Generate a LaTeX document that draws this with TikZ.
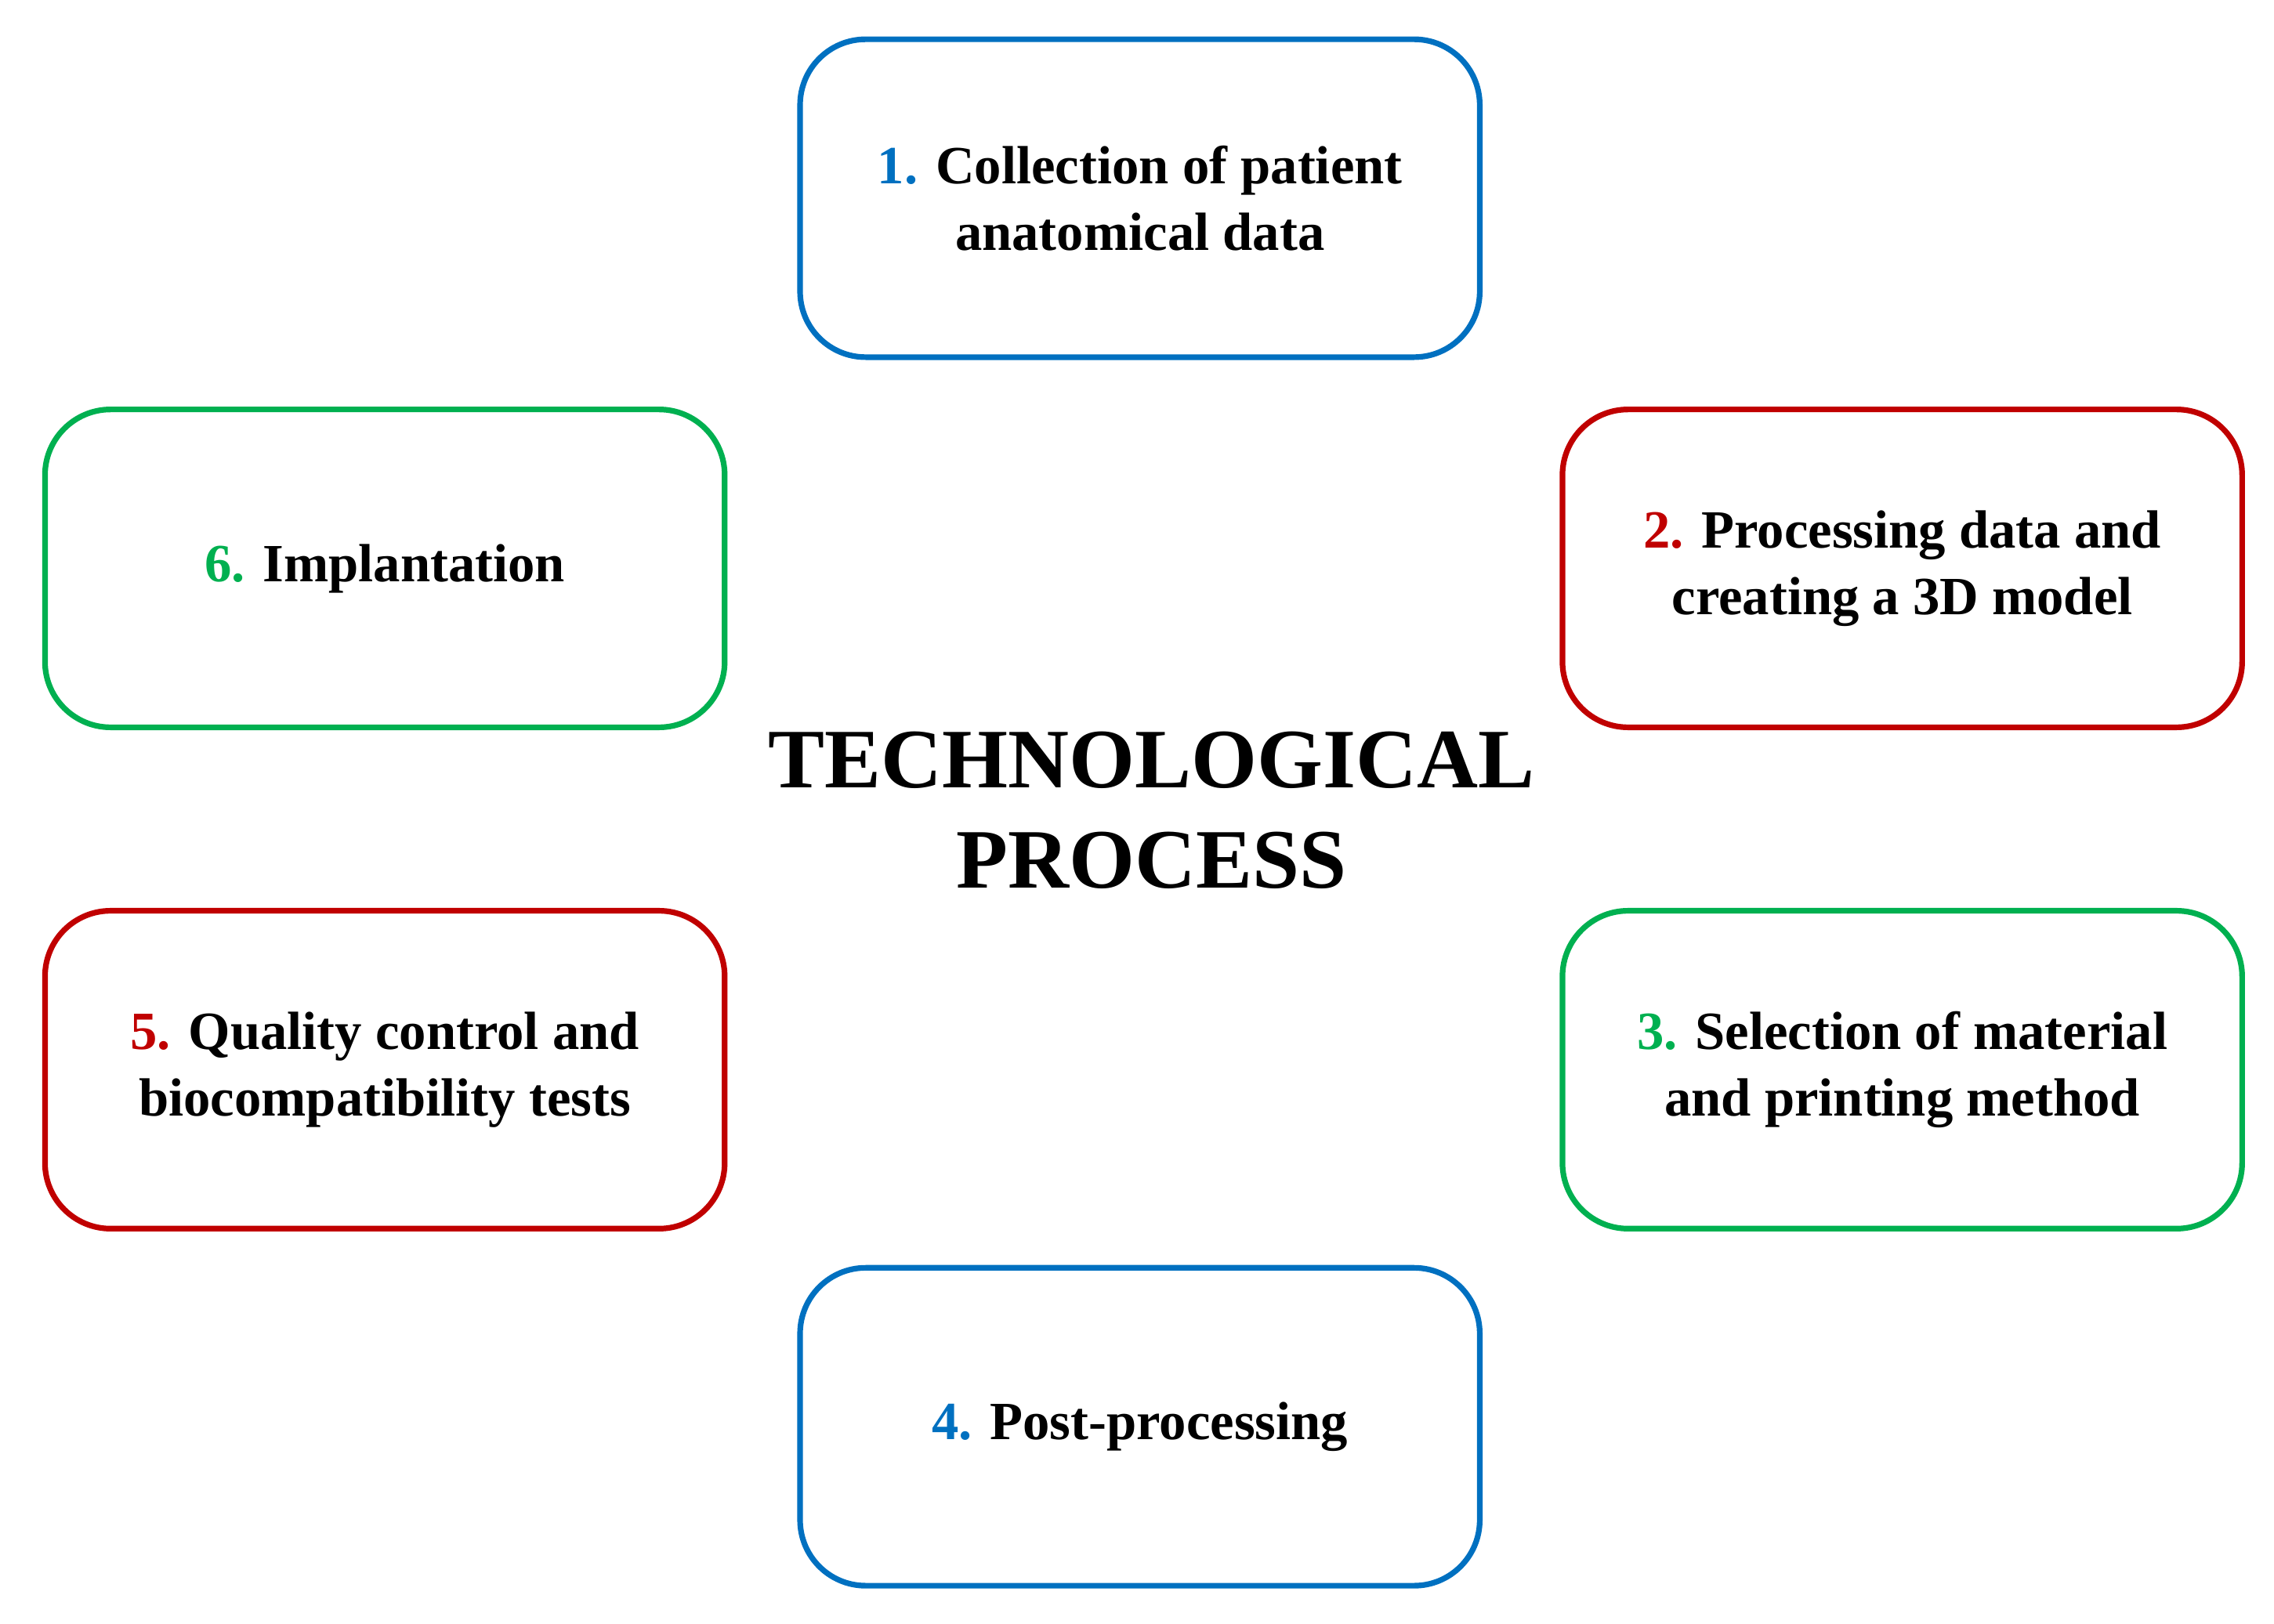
\documentclass[tikz,border=0pt]{standalone}
\usepackage{fontspec}
\setmainfont{Liberation Serif}
\definecolor{cblue}{RGB}{0,112,192}
\definecolor{cred}{RGB}{192,0,0}
\definecolor{cgreen}{RGB}{0,176,80}
\begin{document}
\begin{tikzpicture}[x=0.01cm,y=-0.01cm,
  box/.style={draw,line width=1.1pt,rounded corners=0.45cm,minimum width=4.66cm,minimum height=2.18cm,align=center,font=\fontsize{10.5}{13}\selectfont\bfseries},
  title/.style={align=center,font=\fontsize{16.5}{19.5}\selectfont\bfseries}]
\useasboundingbox (0,0) rectangle (1560,1114);
\node[box,draw=cblue] (b1) at (782,136) {{\color{cblue}1.} Collection of patient\\anatomical data};
\node[box,draw=cred] (b2) at (1305,390) {{\color{cred}2.} Processing data and\\creating a 3D model};
\node[box,draw=cgreen] (b3) at (1305,734) {{\color{cgreen}3.} Selection of material\\and printing method};
\node[box,draw=cblue] (b4) at (782,979) {{\color{cblue}4.} Post-processing};
\node[box,draw=cred] (b5) at (264,734) {{\color{cred}5.} Quality control and\\biocompatibility tests};
\node[box,draw=cgreen] (b6) at (264,390) {{\color{cgreen}6.} Implantation};
\node[title] (t) at (790,556) {TECHNOLOGICAL\\PROCESS};
\end{tikzpicture}
\end{document}
